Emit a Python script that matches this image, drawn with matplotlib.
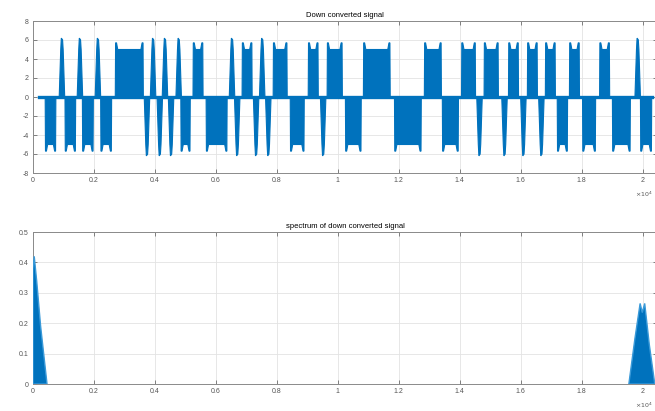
import matplotlib
matplotlib.use("Agg")
import matplotlib.pyplot as plt
from matplotlib.ticker import FuncFormatter
from matplotlib.transforms import blended_transform_factory

# ---------------- data (x in units of 1e4 samples) ----------------
# top panel: segments of the down-converted signal
seg_start = [0.040, 0.088, 0.105, 0.147, 0.162, 0.206, 0.222, 0.270, 0.367, 0.387,
             0.409, 0.426, 0.446, 0.471, 0.485, 0.525, 0.568, 0.646, 0.663, 0.686,
             0.725, 0.745, 0.765, 0.788, 0.844, 0.903, 0.945, 0.965, 1.025, 1.084,
             1.186, 1.284, 1.343, 1.406, 1.458, 1.480, 1.540, 1.560, 1.602, 1.622,
             1.661, 1.681, 1.720, 1.760, 1.803, 1.859, 1.901, 1.977, 1.993]
seg_end = [0.075, 0.102, 0.140, 0.161, 0.198, 0.220, 0.258, 0.362, 0.381, 0.401,
           0.423, 0.440, 0.460, 0.485, 0.516, 0.558, 0.637, 0.660, 0.677, 0.719,
           0.739, 0.759, 0.779, 0.834, 0.890, 0.936, 0.959, 1.015, 1.077, 1.172,
           1.274, 1.340, 1.396, 1.452, 1.472, 1.527, 1.554, 1.593, 1.616, 1.655,
           1.675, 1.714, 1.754, 1.793, 1.846, 1.892, 1.960, 1.991, 2.030]
seg_sign = [-1, 1, -1, 1, -1, 1, -1, 1, -1, 1,
            -1, 1, -1, 1, -1, 1, -1, 1, -1, 1,
            -1, 1, -1, 1, -1, 1, -1, 1, -1, 1,
            -1, 1, -1, 1, -1, 1, -1, 1, -1, 1,
            -1, 1, -1, 1, -1, 1, -1, 1, -1]
seg_kind = ['b', 's', 'b', 's', 'b', 's', 'b', 'b', 's', 's',
            's', 's', 's', 's', 'b', 'b', 'b', 's', 's', 'b',
            's', 's', 's', 'b', 'b', 'b', 's', 'b', 'b', 'b',
            'b', 'b', 'b', 'b', 's', 'b', 's', 'b', 's', 'b',
            's', 'b', 'b', 'b', 'b', 'b', 'b', 's', 'b']
edge_level = 5.7     # overshoot at block edges
flat_level = 5.0     # settled amplitude inside blocks
spike_level = 6.2    # peak of single short pulses
signal_span = [0.02, 2.03]

# bottom panel: spectrum envelopes
spec_left_f = [0.000, 0.000, 0.004, 0.012, 0.025, 0.046]
spec_left_m = [0.000, 0.380, 0.420, 0.340, 0.190, 0.000]
spec_right_f = [1.955, 1.975, 1.992, 1.999, 2.007, 2.022, 2.040]
spec_right_m = [0.000, 0.150, 0.265, 0.235, 0.265, 0.130, 0.000]

top_yticks = [-8, -6, -4, -2, 0, 2, 4, 6, 8]
bot_yticks = [0, 0.1, 0.2, 0.3, 0.4, 0.5]
xticks = [0, 0.2, 0.4, 0.6, 0.8, 1, 1.2, 1.4, 1.6, 1.8, 2]

BLUE = "#0072BD"
plt.rcParams['font.family'] = ['Liberation Sans', 'DejaVu Sans']

fig = plt.figure(figsize=(6.55, 4.11), dpi=100)
W, H = 655.0, 411.0
left = 33 / W
width = (657.2 - 33) / W
ax1 = fig.add_axes([left, 1 - 173 / H, width, 152 / H])
ax2 = fig.add_axes([left, 1 - 384 / H, width, 152 / H])

# ---- top panel ----
ax1.plot(signal_span, [0, 0], color=BLUE, lw=2.4, zorder=2)
for s, e, sg, k in zip(seg_start, seg_end, seg_sign, seg_kind):
    if k == 's':
        c = 0.5 * (s + e)
        xs = [c - 0.009, c - 0.004, c - 0.002, c + 0.002, c + 0.004, c + 0.009]
        ys = [0, sg * spike_level * 0.8, sg * spike_level,
              sg * spike_level * 0.97, sg * spike_level * 0.8, 0]
    else:
        d = min(0.004, (e - s) / 6)
        xs = [s, s + 0.001, s + d, s + 2 * d, e - 2 * d, e - d, e - 0.001, e]
        ys = [0, sg * edge_level, sg * edge_level, sg * flat_level,
              sg * flat_level, sg * edge_level, sg * edge_level, 0]
    ax1.fill(xs, ys, color=BLUE, lw=0.8, ec=BLUE, zorder=3)

ax1.set_ylim(-8, 8)
ax1.set_yticks(top_yticks)
ax1.set_title("Down converted signal", fontsize=5.5, pad=3)

# ---- bottom panel ----
ax2.fill(spec_left_f, spec_left_m, color=BLUE, lw=1.0, ec="#3a9ad9", zorder=3)
ax2.fill(spec_right_f, spec_right_m, color=BLUE, lw=1.0, ec="#3a9ad9", zorder=3)
ax2.set_ylim(0, 0.5)
ax2.set_yticks(bot_yticks)
ax2.set_title("spectrum of down converted signal", fontsize=5.5, pad=3)

for ax in (ax1, ax2):
    ax.set_xlim(0, 2.048)
    ax.set_xticks(xticks)
    ax.xaxis.set_major_formatter(FuncFormatter(lambda v, p: "%g" % v))
    ax.yaxis.set_major_formatter(FuncFormatter(lambda v, p: "%g" % v))
    ax.grid(True, color="#e3e3e3", lw=0.6)
    ax.set_axisbelow(True)
    ax.tick_params(direction='in', length=3, width=0.5, labelsize=5,
                   colors="#555555", top=True, right=True, pad=3)
    for sp in ax.spines.values():
        sp.set_color("#8a8a8a")
        sp.set_linewidth(0.7)
    ax.text(653 / W, -0.11, r"$\times10^4$",
            transform=blended_transform_factory(fig.transFigure, ax.transAxes),
            fontsize=4.5, color="#555555", ha='right', va='top')

fig.savefig("out.png", dpi=100)
